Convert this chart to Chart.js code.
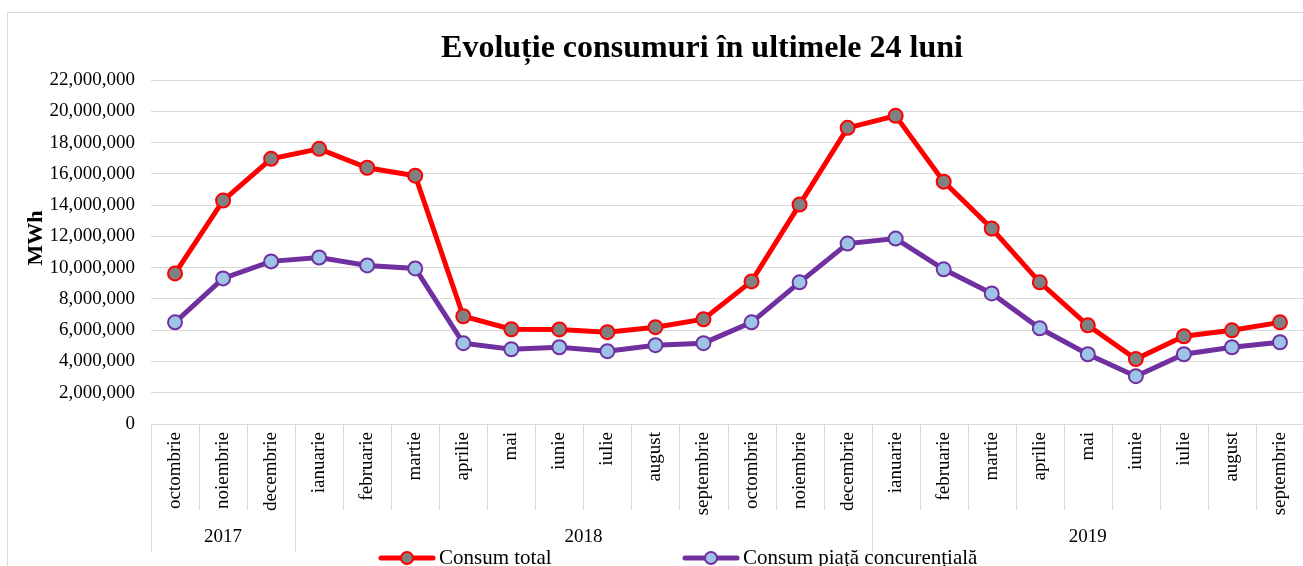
<!DOCTYPE html>
<html>
<head>
<meta charset="utf-8">
<script src="https://cdn.jsdelivr.net/npm/chart.js@4.4.0/dist/chart.umd.min.js"></script>
<style>
  html, body { margin: 0; padding: 0; background: #fff; overflow: hidden; }
  #frame { position: absolute; left: 7px; top: 12px; width: 1400px; height: 700px; border: 1px solid #d9d9d9; }
  #chart { position: absolute; left: 0; top: 0; }
</style>
</head>
<body>
<div id="frame"></div>
<canvas id="chart" width="1313" height="566"></canvas>
<script>
'use strict';

const months = ['octombrie', 'noiembrie', 'decembrie',
    'ianuarie', 'februarie', 'martie', 'aprilie', 'mai', 'iunie', 'iulie', 'august', 'septembrie',
    'octombrie', 'noiembrie', 'decembrie',
    'ianuarie', 'februarie', 'martie', 'aprilie', 'mai', 'iunie', 'iulie', 'august', 'septembrie'];
const years = ['2017', '2018', '2019'];
const yearMonthCount = [3, 12, 9];

const consumTotal = [9630000, 14290000, 16960000, 17600000, 16390000, 15880000,
    6890000, 6060000, 6050000, 5870000, 6190000, 6700000,
    9120000, 14030000, 18940000, 19710000, 15500000, 12500000,
    9060000, 6310000, 4150000, 5610000, 5990000, 6500000];
const consumPiata = [6500000, 9310000, 10400000, 10650000, 10140000, 9950000,
    5170000, 4780000, 4910000, 4660000, 5040000, 5170000,
    6500000, 9060000, 11540000, 11860000, 9890000, 8350000,
    6120000, 4460000, 3060000, 4460000, 4910000, 5230000];

const chartTitle = 'Evoluție consumuri în ultimele 24 luni';
const yTitle = 'MWh';

const serif = "'Liberation Serif', 'Times New Roman', serif";
let canvasElem = document.getElementById('chart');

// title (off-centre like the original), y axis title, month/year table under the x axis
const decorations = {
    id: 'decorations',
    afterDraw(chart) {
        const ctx = chart.ctx;
        const x = chart.scales.x;
        const top = chart.chartArea.bottom;
        const step = (x.right - x.left) / months.length;
        const yearEdges = [0];
        yearMonthCount.forEach(n => yearEdges.push(yearEdges[yearEdges.length - 1] + n));

        ctx.save();
        ctx.strokeStyle = '#d9d9d9';
        ctx.lineWidth = 1;
        for (let i = 0; i <= months.length; i++) {
            const px = Math.round(x.left + i * step) + 0.5;
            const long = yearEdges.includes(i);
            ctx.beginPath();
            ctx.moveTo(px, top);
            ctx.lineTo(px, top + (long ? 128 : 86));
            ctx.stroke();
        }
        ctx.fillStyle = '#000';
        ctx.font = '19px ' + serif;
        ctx.textAlign = 'center';
        ctx.textBaseline = 'middle';
        for (let i = 0; i < years.length; i++) {
            const cx = x.left + (yearEdges[i] + yearEdges[i + 1]) / 2 * step;
            ctx.fillText(years[i], cx, top + 113);
        }

        ctx.font = 'bold 32px ' + serif;
        ctx.fillText(chartTitle, 702, 49);

        ctx.translate(36, 238);
        ctx.rotate(-Math.PI / 2);
        ctx.font = 'bold 22px ' + serif;
        ctx.fillText(yTitle, 0, 0);
        ctx.restore();
    }
};

// legend with line + marker, like the spreadsheet one
const lineLegend = {
    id: 'lineLegend',
    afterDraw(chart, args, opts) {
        const ctx = chart.ctx;
        ctx.save();
        ctx.font = '21px ' + serif;
        ctx.textBaseline = 'middle';
        chart.data.datasets.forEach((ds, i) => {
            const x0 = opts.x[i];
            const y = opts.y;
            ctx.strokeStyle = ds.borderColor;
            ctx.lineWidth = 5;
            ctx.lineCap = 'round';
            ctx.beginPath();
            ctx.moveTo(x0 + 2, y);
            ctx.lineTo(x0 + 54, y);
            ctx.stroke();
            ctx.beginPath();
            ctx.arc(x0 + 28, y, 6, 0, Math.PI * 2);
            ctx.fillStyle = ds.pointBackgroundColor;
            ctx.fill();
            ctx.lineWidth = 2;
            ctx.strokeStyle = ds.pointBorderColor;
            ctx.stroke();
            ctx.fillStyle = '#000';
            ctx.fillText(ds.label, x0 + 60, y);
        });
        ctx.restore();
    }
};

function renderChart() {
    let chart = {
        type: 'line',
        data: {
            labels: months,
            datasets: [
                {
                    label: 'Consum total',
                    data: consumTotal,
                    borderColor: '#ff0000',
                    borderWidth: 5,
                    pointRadius: 7,
                    pointHoverRadius: 7,
                    pointBackgroundColor: '#808080',
                    pointBorderColor: '#ff0000',
                    pointBorderWidth: 2,
                    tension: 0
                },
                {
                    label: 'Consum piață concurențială',
                    data: consumPiata,
                    borderColor: '#7030a0',
                    borderWidth: 5,
                    pointRadius: 7,
                    pointHoverRadius: 7,
                    pointBackgroundColor: '#9dc3e6',
                    pointBorderColor: '#7030a0',
                    pointBorderWidth: 2,
                    tension: 0
                }
            ]
        },
        options: {
            responsive: false,
            animation: false,
            devicePixelRatio: 1,
            layout: { padding: { left: 20, right: 0, top: 80, bottom: 14 } },
            plugins: {
                legend: { display: false },
                title: { display: false },
                tooltip: { enabled: false },
                lineLegend: { x: [379, 683], y: 558 }
            },
            scales: {
                x: {
                    offset: true,
                    grid: { display: false, drawTicks: false },
                    border: { display: false },
                    ticks: {
                        autoSkip: false,
                        minRotation: 90,
                        maxRotation: 90,
                        padding: 8,
                        color: '#000',
                        font: { family: serif, size: 19 }
                    },
                    afterFit(scale) { scale.height = 128; }
                },
                y: {
                    min: 0,
                    max: 22000000,
                    grid: { color: '#d9d9d9', lineWidth: 1, drawTicks: false },
                    border: { display: false },
                    ticks: {
                        stepSize: 2000000,
                        padding: 16,
                        color: '#000',
                        font: { family: serif, size: 19 },
                        callback: v => v.toLocaleString('en-US')
                    },
                    afterFit(scale) { scale.width = 131; }
                }
            }
        },
        plugins: [decorations, lineLegend]
    };
    new Chart(canvasElem, chart);
}

renderChart();
</script>
</body>
</html>
